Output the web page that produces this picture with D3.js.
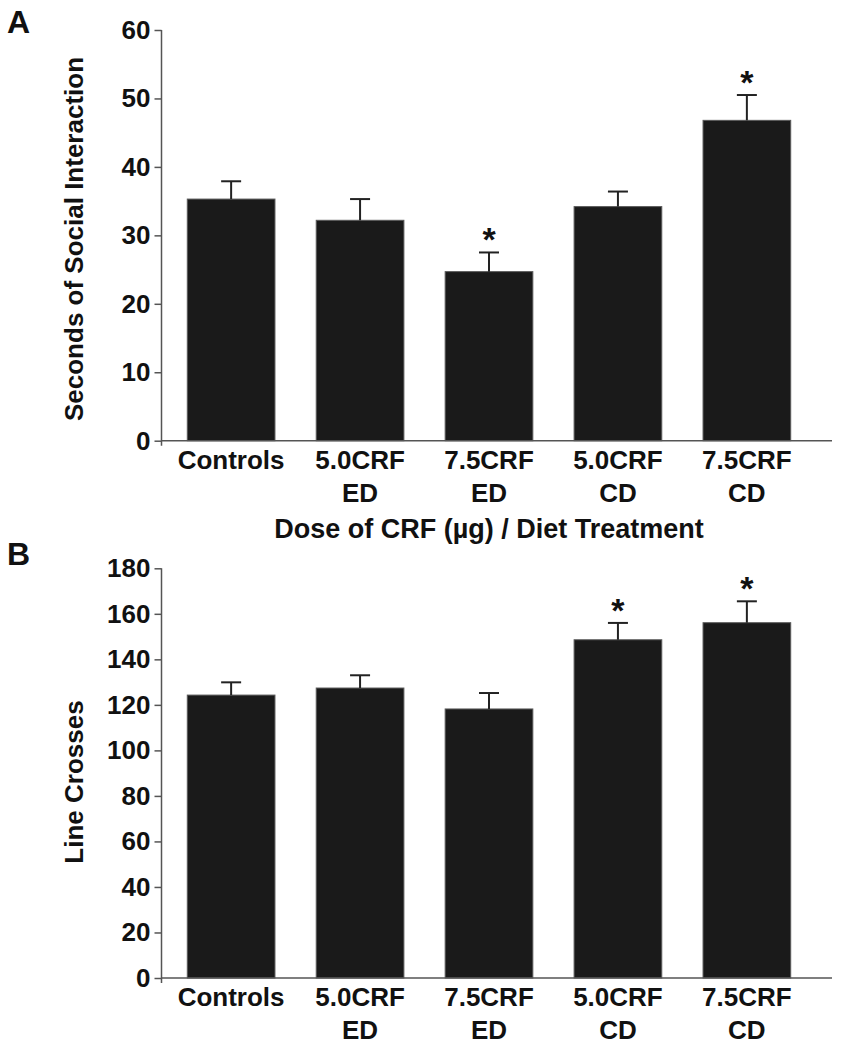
<!DOCTYPE html>
<html>
<head>
<meta charset="utf-8">
<script src="https://cdn.jsdelivr.net/npm/d3@7"></script>
<style>
  html, body { margin: 0; padding: 0; background: #fff; }
  svg { display: block; }
  text { font-family: "Liberation Sans", Arial, Helvetica, sans-serif; font-weight: bold; fill: #111; }
</style>
</head>
<body>
<svg id="chart" width="842" height="1050"></svg>
<script>
// ---- data ----
const categories = ["Controls", "5.0CRF|ED", "7.5CRF|ED", "5.0CRF|CD", "7.5CRF|CD"];
const socialMeans = [35.3, 32.2, 24.7, 34.2, 46.8];
const socialErrors = [2.6, 3.1, 2.8, 2.2, 3.7];
const socialSig = [false, false, true, false, true];
const socialTicks = [0, 10, 20, 30, 40, 50, 60];

const crossMeans = [124.3, 127.4, 118.2, 148.6, 156.1];
const crossErrors = [5.6, 5.6, 7.0, 7.4, 9.4];
const crossSig = [false, false, false, true, true];
const crossTicks = [0, 20, 40, 60, 80, 100, 120, 140, 160, 180];

const svg = d3.select("#chart");

function panel(opts) {
  const g = svg.append("g");
  const x = d3.scaleBand().domain(categories).range([161.5, 816.5])
    .paddingInner(0.32).paddingOuter(0.2);
  const y = d3.scaleLinear().domain([0, opts.max]).range([opts.y0, opts.y1]);

  // bars
  g.selectAll("rect.bar").data(categories).join("rect")
    .attr("class", "bar")
    .attr("x", d => x(d))
    .attr("width", x.bandwidth())
    .attr("y", (d, i) => y(opts.means[i]))
    .attr("height", (d, i) => y(0) - y(opts.means[i]))
    .attr("fill", "#1a1a1a")
    .attr("stroke", "#5a5a5a")
    .attr("stroke-width", 1);

  // error bars
  const eb = g.selectAll("g.err").data(categories).join("g").attr("class", "err");
  eb.append("line")
    .attr("x1", d => x(d) + x.bandwidth() / 2)
    .attr("x2", d => x(d) + x.bandwidth() / 2)
    .attr("y1", (d, i) => y(opts.means[i]))
    .attr("y2", (d, i) => y(opts.means[i] + opts.errors[i]))
    .attr("stroke", "#222").attr("stroke-width", 2);
  eb.append("line")
    .attr("x1", d => x(d) + x.bandwidth() / 2 - 10)
    .attr("x2", d => x(d) + x.bandwidth() / 2 + 10)
    .attr("y1", (d, i) => y(opts.means[i] + opts.errors[i]))
    .attr("y2", (d, i) => y(opts.means[i] + opts.errors[i]))
    .attr("stroke", "#222").attr("stroke-width", 2);

  // significance stars
  g.selectAll("text.star").data(categories.filter((d, i) => opts.sig[i])).join("text")
    .attr("class", "star")
    .attr("x", d => x(d) + x.bandwidth() / 2)
    .attr("y", d => { const i = categories.indexOf(d); return y(opts.means[i] + opts.errors[i]) - 1; })
    .attr("text-anchor", "middle")
    .style("font-size", "34px")
    .text("*");

  // y axis
  const yAxis = d3.axisLeft(y).tickValues(opts.ticks).tickSize(7).tickPadding(4);
  const ya = g.append("g").attr("transform", "translate(161.5,0)").call(yAxis);
  ya.select(".domain").remove();
  ya.selectAll(".tick line").attr("stroke", "#555").attr("stroke-width", 1.5);
  ya.selectAll(".tick text").style("font-size", "26px").attr("fill", "#111")
    .style("font-family", "'Liberation Sans', Arial, sans-serif").style("font-weight", "bold");
  g.append("line").attr("x1", 161.5).attr("x2", 161.5)
    .attr("y1", y(opts.max)).attr("y2", y(0) + 5)
    .attr("stroke", "#555").attr("stroke-width", 1.5);
  // x axis line
  g.append("line").attr("x1", 161.5).attr("x2", 832)
    .attr("y1", y(0)).attr("y2", y(0))
    .attr("stroke", "#555").attr("stroke-width", 1.5);

  // category labels
  const lab = g.selectAll("text.cat").data(categories).join("text")
    .attr("class", "cat")
    .attr("text-anchor", "middle")
    .style("font-size", "26px");
  lab.each(function(d) {
    const parts = d.split("|");
    const t = d3.select(this);
    parts.forEach((p, k) => {
      t.append("tspan")
        .attr("x", x(d) + x.bandwidth() / 2)
        .attr("y", y(0) + 28 + k * 33)
        .text(p);
    });
  });

  // y title
  g.append("text")
    .attr("transform", `translate(${opts.ytX},${opts.ytY}) rotate(-90)`)
    .attr("text-anchor", "middle")
    .style("font-size", "26px")
    .text(opts.ytitle);

  // panel letter
  g.append("text").attr("x", 7).attr("y", opts.letterY)
    .style("font-size", "32px").text(opts.letter);

  return { x, y, g };
}

const A = panel({
  means: socialMeans, errors: socialErrors, sig: socialSig, ticks: socialTicks,
  max: 60, y0: 440.7, y1: 30,
  ytitle: "Seconds of Social Interaction", ytX: 83, ytY: 239,
  letter: "A", letterY: 33
});
A.g.append("text").attr("x", 489).attr("y", 538)
  .attr("text-anchor", "middle").style("font-size", "27px")
  .text("Dose of CRF (µg) / Diet Treatment");

panel({
  means: crossMeans, errors: crossErrors, sig: crossSig, ticks: crossTicks,
  max: 180, y0: 978, y1: 568.3,
  ytitle: "Line Crosses", ytX: 83, ytY: 782,
  letter: "B", letterY: 565
});
</script>
</body>
</html>
